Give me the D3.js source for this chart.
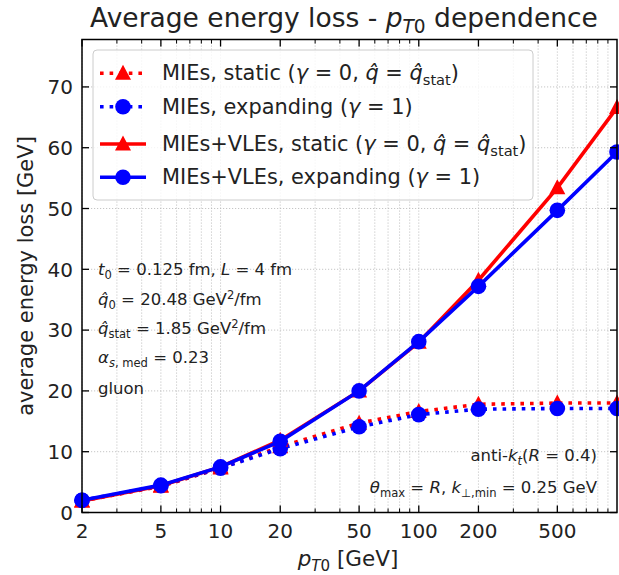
<!DOCTYPE html>
<html><head><meta charset="utf-8">
<script src="https://cdn.jsdelivr.net/npm/d3@7"></script>
<style>
html,body{margin:0;padding:0;background:#fff;}
svg{display:block;font-family:"DejaVu Sans",sans-serif;}
</style></head>
<body><svg id="c" width="619" height="575"></svg>
<script>
// ---- data ----
const pT = [2, 5, 10, 20, 50, 100, 200, 500, 1000];
const miesStatic    = [1.9, 4.3, 7.3, 10.8, 14.7, 16.6, 17.8, 18.0, 18.0];
const miesExpanding = [2.0, 4.4, 7.3, 10.5, 14.1, 16.1, 17.0, 17.1, 17.1];
const vlesStatic    = [1.9, 4.4, 7.5, 11.9, 20.0, 28.0, 38.2, 53.4, 66.6];
const vlesExpanding = [2.0, 4.5, 7.5, 11.7, 20.0, 28.1, 37.2, 49.7, 59.3];
const xTickValues = [2, 5, 10, 20, 50, 100, 200, 500];
const xMinorTicks = [3,4,6,7,8,9,30,40,60,70,80,90,300,400,600,700,800,900];
const yTickValues = [0, 10, 20, 30, 40, 50, 60, 70];

const svg = d3.select("#c");
const L = 82, R = 617, T = 39.5, B = 512.5;
const x = d3.scaleLog().domain([2, 1000]).range([L, R]);
const y = d3.scaleLinear().domain([0, 77.8]).range([B, T]);

// rich text helper
function rich(sel, segs, fs) {
  let shift = 0;
  segs.forEach(s => {
    const tgt = s.sub ? fs*0.22 : s.sup ? -fs*0.38 : 0;
    const ts = sel.append("tspan").text(s.t);
    ts.attr("dy", (tgt - shift).toFixed(2));
    shift = tgt;
    ts.attr("font-size", (s.sub || s.sup) ? fs*0.7 : fs);
    if (s.it) ts.attr("font-style", "italic");
  });
}

// grid
const grid = svg.append("g").attr("stroke", "#b8b8b8").attr("stroke-width", 0.8).attr("stroke-dasharray", "1.2,1.8");
xTickValues.concat(xMinorTicks).forEach(v => {
  grid.append("line").attr("x1", x(v)).attr("x2", x(v)).attr("y1", T).attr("y2", B);
});
yTickValues.slice(1).forEach(v => {
  grid.append("line").attr("x1", L).attr("x2", R).attr("y1", y(v)).attr("y2", y(v));
});

// series
const series = [
  {vals: miesStatic, color: "#ff0000", dotted: true, marker: "tri"},
  {vals: miesExpanding, color: "#0000ff", dotted: true, marker: "circ"},
  {vals: vlesStatic, color: "#ff0000", dotted: false, marker: "tri"},
  {vals: vlesExpanding, color: "#0000ff", dotted: false, marker: "circ"}
];
const line = d3.line().x((d,i) => x(pT[i])).y(d => y(d));
function marker(g, m, cx, cy, color) {
  if (m === "circ") g.append("circle").attr("cx", cx).attr("cy", cy).attr("r", 7.8).attr("fill", color);
  else g.append("path").attr("d", "M0,-8.5L8,6.5L-8,6.5Z").attr("transform", `translate(${cx},${cy})`).attr("fill", color);
}
series.forEach(s => {
  const g = svg.append("g");
  g.append("path").attr("d", line(s.vals)).attr("fill", "none").attr("stroke", s.color)
    .attr("stroke-width", 3.6).attr("stroke-dasharray", s.dotted ? "3.6,6" : null);
  s.vals.forEach((v, i) => marker(g, s.marker, x(pT[i]), y(v), s.color));
});

// spines & ticks
const ax = svg.append("g").attr("stroke", "#000");
ax.append("rect").attr("x", L).attr("y", T).attr("width", R - L).attr("height", B - T)
  .attr("fill", "none").attr("stroke-width", 1.5);
xTickValues.forEach(v => {
  ax.append("line").attr("x1", x(v)).attr("x2", x(v)).attr("y1", B).attr("y2", B - 7).attr("stroke-width", 1.3);
  ax.append("line").attr("x1", x(v)).attr("x2", x(v)).attr("y1", T).attr("y2", T + 7).attr("stroke-width", 1.3);
});
xMinorTicks.forEach(v => {
  ax.append("line").attr("x1", x(v)).attr("x2", x(v)).attr("y1", B).attr("y2", B - 4).attr("stroke-width", 1);
  ax.append("line").attr("x1", x(v)).attr("x2", x(v)).attr("y1", T).attr("y2", T + 4).attr("stroke-width", 1);
});
yTickValues.forEach(v => {
  ax.append("line").attr("x1", L).attr("x2", L + 7).attr("y1", y(v)).attr("y2", y(v)).attr("stroke-width", 1.3);
  ax.append("line").attr("x1", R).attr("x2", R - 7).attr("y1", y(v)).attr("y2", y(v)).attr("stroke-width", 1.3);
});

// tick labels
const tc = "#222";
xTickValues.forEach(v => {
  svg.append("text").attr("x", x(v)).attr("y", 538).attr("text-anchor", "middle")
    .attr("font-size", 20).attr("fill", tc).text(v);
});
yTickValues.forEach(v => {
  svg.append("text").attr("x", 73).attr("y", y(v) + 7.3).attr("text-anchor", "end")
    .attr("font-size", 20).attr("fill", tc).text(v);
});

// axis labels & title
const xl = svg.append("text").attr("x", 348).attr("y", 566).attr("text-anchor", "middle").attr("fill", tc);
rich(xl, [{t:"p", it:1}, {t:"T", it:1, sub:1}, {t:"0", sub:1}, {t:" [GeV]"}], 21.5);
svg.append("text").attr("transform", "translate(33,276) rotate(-90)").attr("text-anchor", "middle")
  .attr("font-size", 21).attr("fill", tc).text("average energy loss [GeV]");
const tt = svg.append("text").attr("x", 344).attr("y", 27).attr("text-anchor", "middle").attr("fill", tc);
rich(tt, [{t:"Average energy loss - "}, {t:"p", it:1}, {t:"T", it:1, sub:1}, {t:"0", sub:1}, {t:" dependence"}], 26.5);

// annotations
const ann = [
  [{t:"t", it:1}, {t:"0", sub:1}, {t:" = 0.125 fm, "}, {t:"L", it:1}, {t:" = 4 fm"}],
  [{t:"q\u0302", it:1}, {t:"0", sub:1}, {t:" = 20.48 GeV"}, {t:"2", sup:1}, {t:"/fm"}],
  [{t:"q\u0302", it:1}, {t:"stat", sub:1}, {t:" = 1.85 GeV"}, {t:"2", sup:1}, {t:"/fm"}],
  [{t:"\u03b1", it:1}, {t:"s", it:1, sub:1}, {t:", med", sub:1}, {t:" = 0.23"}],
  [{t:"gluon"}]
];
const annY = [275, 305, 334, 363, 394];
ann.forEach((a, i) => {
  const t = svg.append("text").attr("x", 98).attr("y", annY[i]).attr("fill", tc);
  rich(t, a, 16.5);
});
const ann2 = [
  [{t:"anti-"}, {t:"k", it:1}, {t:"t", it:1, sub:1}, {t:"("}, {t:"R", it:1}, {t:" = 0.4)"}],
  [{t:"\u03b8", it:1}, {t:"max", sub:1}, {t:" = "}, {t:"R", it:1}, {t:", "}, {t:"k", it:1}, {t:"\u22a5,min", sub:1}, {t:" = 0.25 GeV"}]
];
[461, 493].forEach((yy, i) => {
  const t = svg.append("text").attr("x", 597).attr("y", yy).attr("text-anchor", "end").attr("fill", tc);
  rich(t, ann2[i], 16.5);
});

// legend
const lg = svg.append("g");
lg.append("rect").attr("x", 93).attr("y", 50).attr("width", 440).attr("height", 150).attr("rx", 4)
  .attr("fill", "#fff").attr("fill-opacity", 0.8).attr("stroke", "#cccccc").attr("stroke-width", 1);
const legLabels = [
  [{t:"MIEs, static ("}, {t:"\u03b3", it:1}, {t:" = 0, "}, {t:"q\u0302", it:1}, {t:" = "}, {t:"q\u0302", it:1}, {t:"stat", sub:1}, {t:")"}],
  [{t:"MIEs, expanding ("}, {t:"\u03b3", it:1}, {t:" = 1)"}],
  [{t:"MIEs+VLEs, static ("}, {t:"\u03b3", it:1}, {t:" = 0, "}, {t:"q\u0302", it:1}, {t:" = "}, {t:"q\u0302", it:1}, {t:"stat", sub:1}, {t:")"}],
  [{t:"MIEs+VLEs, expanding ("}, {t:"\u03b3", it:1}, {t:" = 1)"}]
];
const legY = [73.3, 106.7, 144, 177.3];
series.forEach((s, i) => {
  const cy = legY[i];
  lg.append("line").attr("x1", 100).attr("x2", 146).attr("y1", cy).attr("y2", cy)
    .attr("stroke", s.color).attr("stroke-width", 3.6).attr("stroke-dasharray", s.dotted ? "3.6,6" : null);
  marker(lg, s.marker, 123, cy, s.color);
  const t = lg.append("text").attr("x", 162).attr("y", cy + 7).attr("fill", tc);
  rich(t, legLabels[i], 20.9);
});
</script></body></html>
